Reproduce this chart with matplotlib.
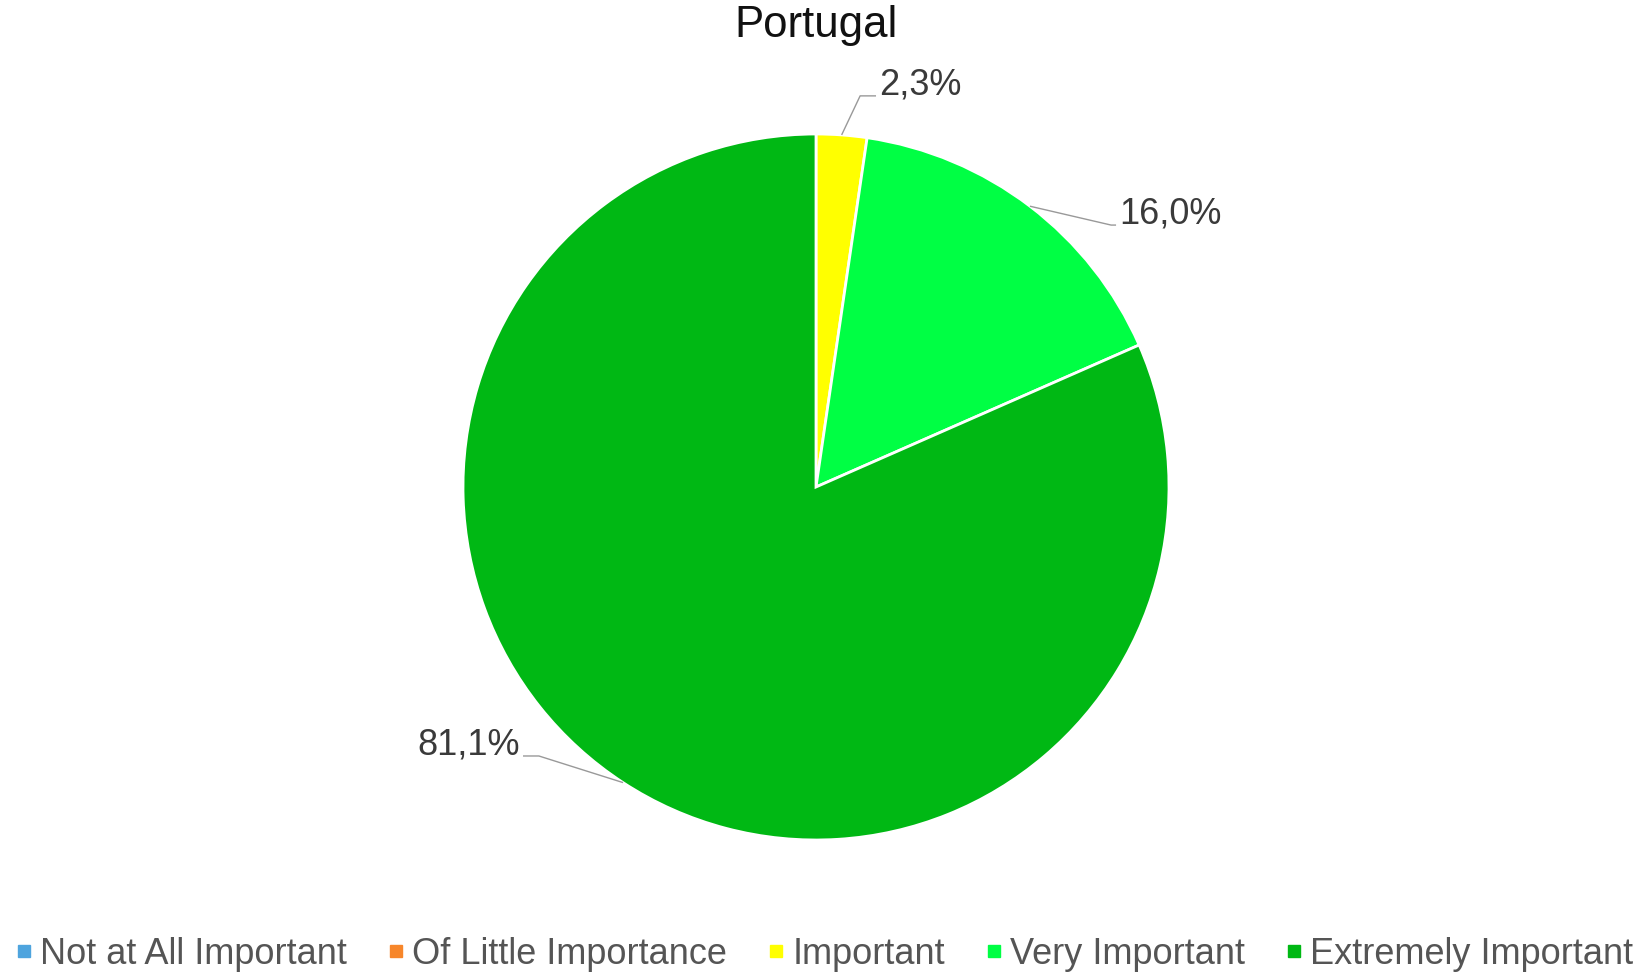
import numpy as np
import matplotlib
matplotlib.use("Agg")
import matplotlib.pyplot as plt
from matplotlib.lines import Line2D

plt.rcParams['font.family'] = ['Liberation Sans', 'DejaVu Sans']

# data
title = "Portugal"
categories = ["Not at All Important", "Of Little Importance", "Important",
              "Very Important", "Extremely Important"]
values = [0.0, 0.0, 2.3, 16.0, 81.1]
labels = ["", "", "2,3%", "16,0%", "81,1%"]
colors = ["#4ea4de", "#f7862a", "#ffff00", "#00ff44", "#00b814"]

W, H = 1641, 972
cx, cy, R = 816, 487, 353   # pie centre / radius in pixels

fig = plt.figure(figsize=(W/100, H/100), dpi=100)
ax = fig.add_axes([0, 0, 1, 1])

shown = [i for i, v in enumerate(values) if v > 0]
wedges, _ = ax.pie([values[i] for i in shown], colors=[colors[i] for i in shown],
                   startangle=90, counterclock=False, radius=1,
                   wedgeprops=dict(edgecolor="white", linewidth=2))
ax.set_xlim(-cx/R, (W-cx)/R)
ax.set_ylim((cy-H)/R, cy/R)
ax.set_aspect('auto')
ax.axis('off')

# label offsets: (elbow, text anchor) in radius units, layout only
lab_pos = {2: ((0.125, 1.108), (0.17, 1.108), 'left'),
           3: ((0.836, 0.742), (0.85, 0.742), 'left'),
           4: ((-0.785, -0.762), (-0.83, -0.762), 'right')}
for w, i in zip(wedges, shown):
    mid = np.deg2rad((w.theta1 + w.theta2)/2)
    ex, ey = np.cos(mid), np.sin(mid)
    (bx, by), (tx, ty), ha = lab_pos[i]
    ax.plot([ex, bx, tx], [ey, by, ty], color="#999999", lw=1, solid_capstyle='butt')
    ax.text(tx + (0.01 if ha == 'left' else -0.01), ty + 0.03, labels[i],
            ha=ha, va='center', fontsize=26, color="#3a3a3a")

fig.text(cx/W, 1 - 25/H, title, ha='center', va='center', fontsize=31.5, color="#111111")

handles = [Line2D([0], [0], marker='s', ls='', markersize=8,
                  markerfacecolor=c, markeredgecolor=c) for c in colors]
fig.legend(handles, categories, loc='center', bbox_to_anchor=(825/W, 1 - 954/H),
           ncol=5, frameon=False, fontsize=26, labelcolor="#555555",
           handletextpad=0.25, columnspacing=1.15, handlelength=0.4)

fig.savefig("out.png", dpi=100, facecolor="white")
